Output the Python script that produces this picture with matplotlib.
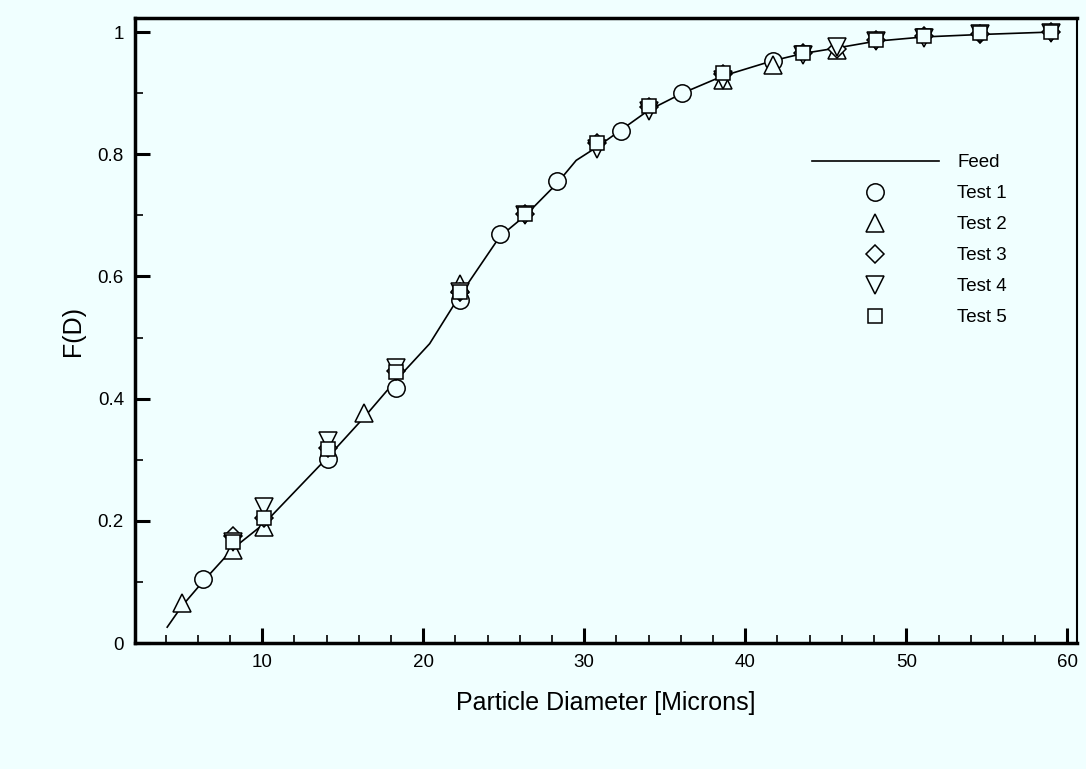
import numpy as np
import matplotlib.pyplot as plt
from matplotlib.ticker import MultipleLocator

plt.rcParams['font.family'] = ['Liberation Sans', 'DejaVu Sans']

# Feed curve
feed_x = [4.1, 5.0, 6.3, 8.2, 10.1, 14.1, 16.35, 18.3, 20.4, 22.3, 24.75, 26.35, 28.3, 29.5,
          30.8, 32.3, 34.0, 36.1, 38.6, 41.7, 43.6, 45.7, 48.1, 51.1, 54.6, 59.0]
feed_y = [0.026, 0.060, 0.100, 0.155, 0.195, 0.305, 0.370, 0.430, 0.490, 0.570, 0.665, 0.700,
          0.752, 0.790, 0.812, 0.840, 0.872, 0.900, 0.928, 0.953, 0.965, 0.974, 0.985, 0.992, 0.996, 1.0]

# Test data
t1_x = [6.3, 14.1, 18.3, 22.3, 24.75, 28.3, 32.3, 36.1, 41.7]
t1_y = [0.104, 0.302, 0.417, 0.562, 0.669, 0.756, 0.838, 0.901, 0.953]

t2_x = [5.0, 8.2, 10.1, 16.35, 22.3, 38.6, 41.7, 45.7]
t2_y = [0.066, 0.152, 0.190, 0.376, 0.588, 0.922, 0.946, 0.970]

t3_x = [8.2, 10.1, 14.1, 18.3, 22.3, 26.35, 30.8, 34.0, 38.6, 43.6, 45.7, 48.1, 51.1, 54.6, 59.0]
t3_y = [0.175, 0.205, 0.320, 0.445, 0.575, 0.703, 0.818, 0.878, 0.932, 0.965, 0.973, 0.987, 0.993, 0.997, 1.0]

t4_x = [8.2, 10.1, 14.1, 18.3, 22.3, 26.35, 30.8, 34.0, 38.6, 43.6, 45.7, 48.1, 51.1, 54.6, 59.0]
t4_y = [0.165, 0.222, 0.330, 0.450, 0.575, 0.700, 0.808, 0.870, 0.922, 0.963, 0.975, 0.985, 0.991, 0.996, 0.999]

t5_x = [8.2, 10.1, 14.1, 18.3, 22.3, 26.35, 30.8, 34.0, 38.6, 43.6, 48.1, 51.1, 54.6, 59.0]
t5_y = [0.165, 0.205, 0.318, 0.443, 0.575, 0.702, 0.818, 0.879, 0.933, 0.966, 0.987, 0.993, 0.998, 1.0]

bg = '#F0FFFF'
fig = plt.figure(figsize=(10.86, 7.69), dpi=100, facecolor=bg)
ax = fig.add_axes([0.1243, 0.1638, 0.8674, 0.8128], facecolor=bg)

ax.plot(feed_x, feed_y, color='black', lw=1.2, label='Feed', zorder=1)
ms = 12.5
mk = dict(ls='none', mfc=bg, mec='black', mew=1.1)
ax.plot(t1_x, t1_y, marker='o', ms=ms, label='Test 1', **mk)
ax.plot(t2_x, t2_y, marker='^', ms=ms, label='Test 2', **mk)
ax.plot(t3_x, t3_y, marker='D', ms=ms / 1.3, label='Test 3', **mk)
ax.plot(t4_x, t4_y, marker='v', ms=ms, label='Test 4', **mk)
ax.plot(t5_x, t5_y, marker='s', ms=ms * 0.85, label='Test 5', **mk)

ax.set_xlim(2.1, 60.6)
ax.set_ylim(0, 1.023)
ax.xaxis.set_minor_locator(MultipleLocator(2))
ax.yaxis.set_minor_locator(MultipleLocator(0.1))
ax.set_xticks([10, 20, 30, 40, 50, 60])
ax.set_xticklabels(['10', '20', '30', '40', '50', '60'])
ax.set_yticks([0, 0.2, 0.4, 0.6, 0.8, 1.0])
ax.set_yticklabels(['0', '0.2', '0.4', '0.6', '0.8', '1'])
ax.tick_params(which='major', direction='in', length=11, width=2.2, labelsize=13.5, pad=8,
               top=False, right=False)
ax.tick_params(which='minor', direction='in', length=6, width=1.2, top=False, right=False)
for s in ['left', 'bottom', 'top']:
    ax.spines[s].set_linewidth(2.5)
ax.spines['right'].set_linewidth(1.5)

ax.set_xlabel('Particle Diameter [Microns]', fontsize=18, labelpad=14)
ax.set_ylabel('F(D)', fontsize=18, labelpad=9)

ax.legend(loc='upper left', bbox_to_anchor=(812 / 1086, 1 - 154 / 769),
          bbox_transform=fig.transFigure, frameon=False, fontsize=13.5,
          handlelength=6.75, handletextpad=1.0, labelspacing=0.74,
          borderpad=0, borderaxespad=0, numpoints=1)

fig.savefig('out.png', dpi=100, facecolor=bg)
